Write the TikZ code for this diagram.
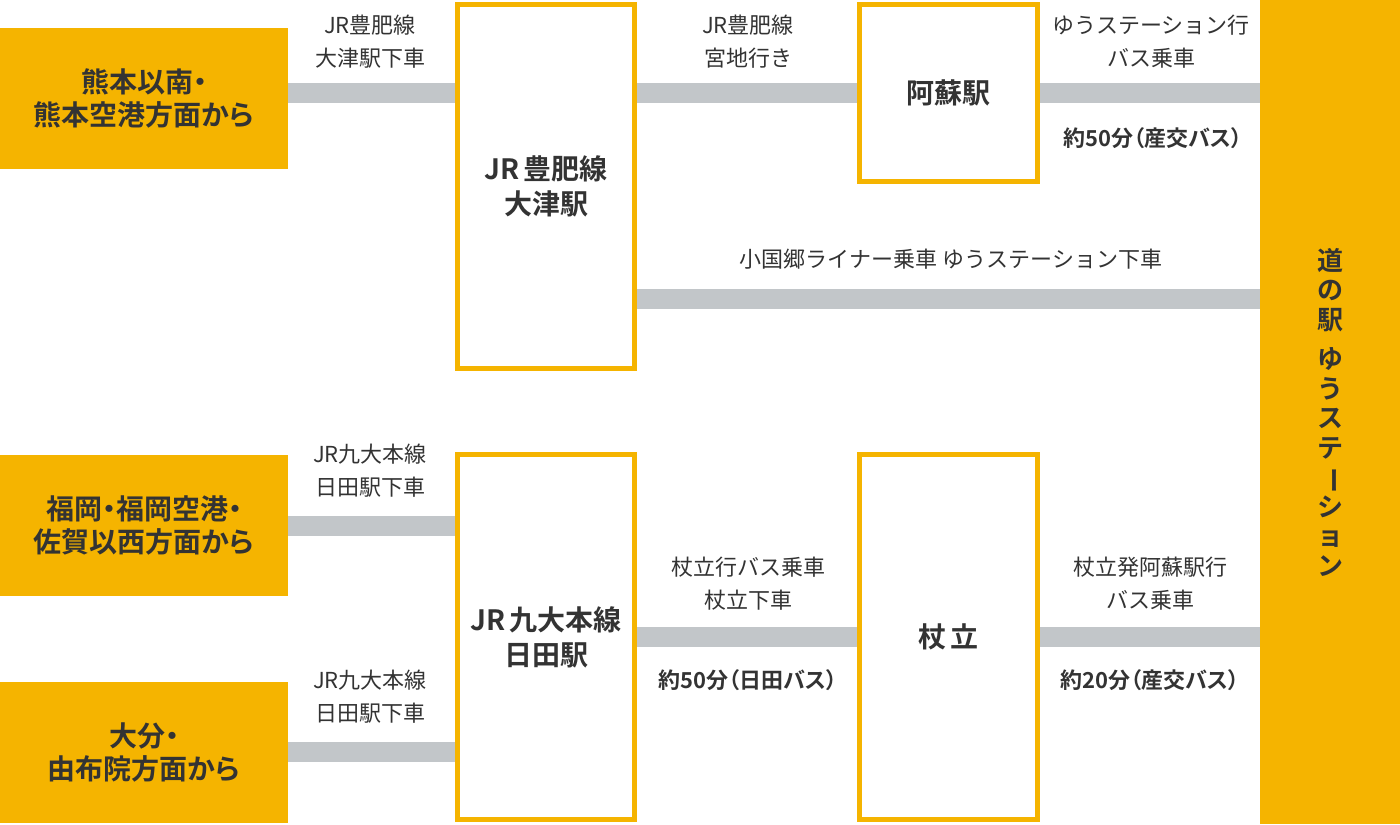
\documentclass[tikz,border=0pt]{standalone}
\usepackage{fontspec}
\setmainfont{Noto Sans CJK JP}[BoldFont={Noto Sans CJK JP Bold}]
\usepackage{graphicx}
\usetikzlibrary{calc}
\definecolor{routeyellow}{HTML}{F5B400}
\definecolor{railgray}{HTML}{C2C6C9}
\definecolor{textdark}{HTML}{333333}
\newcommand{\proportional}{\addfontfeature{RawFeature=+palt}}

\begin{document}
\begin{tikzpicture}[x=0.5pt, y=-0.5pt, text=textdark,
		font=\fontsize{11}{16.5}\selectfont,
		origin/.style={fill=routeyellow, minimum width=144pt, minimum height=70.5pt, inner sep=0pt, align=center, font=\bfseries\fontsize{14}{16.5}\selectfont\proportional},
		stop/.style={draw=routeyellow, line width=2.5pt, fill=white, inner sep=0pt, align=center, font=\bfseries\fontsize{14}{17.5}\selectfont},
		bar/.style={railgray, line width=10pt},
		note/.style={align=center},
		time/.style={font=\bfseries\fontsize{11}{14}\selectfont\proportional}]
			
			\useasboundingbox (0,0) rectangle (1400,824);
			
			% start points
			\node[origin] (kumamoto) at (144,98.5) {熊本以南・\\熊本空港方面から};
			\node[origin] (fukuoka) at (144,525.5) {福岡・福岡空港・\\佐賀以西方面から};
			\node[origin] (oita) at (144,752) {大分・\\由布院方面から};
			
			% stations
			\node[stop, minimum width=88.5pt, minimum height=182pt] (ozu) at (546,186.5) {JR\,豊肥線\\大津駅};
			\node[stop, minimum width=89pt, minimum height=88.5pt] (aso) at (948.5,93) {阿蘇駅};
			\node[stop, minimum width=88.5pt, minimum height=182.5pt] (hita) at (546,637) {JR\,九大本線\\日田駅};
			\node[stop, minimum width=89pt, minimum height=182.5pt] (tsuetate) at (948.5,637) {杖\,立};
			
			% goal
			\node[fill=routeyellow, minimum width=70pt, minimum height=412pt, inner sep=0pt, align=center, font=\bfseries\fontsize{13}{14.75}\selectfont] (station) at (1330,412)
				{道\\の\\駅\\[5pt]ゆ\\う\\ス\\テ\\\rotatebox[origin=c]{-90}{ー}\\シ\\ョ\\ン};
			
			% rails and bus lines
			\coordinate (liner) at (951,299);
			\draw[bar] (kumamoto.east |- aso.center) -- (ozu.west |- aso.center);
			\draw[bar] (ozu.east |- aso.center) -- (aso.west);
			\draw[bar] (aso.east) -- (station.west |- aso.center);
			\draw[bar] (ozu.east |- liner) -- (station.west |- liner);
			\draw[bar] (fukuoka.east) -- (fukuoka.east -| hita.west);
			\draw[bar] (oita.east) -- (oita.east -| hita.west);
			\draw[bar] (hita.east) -- (tsuetate.west);
			\draw[bar] (tsuetate.east) -- (tsuetate.east -| station.west);
			
			% labels
			\node[note] (ozulabel) at (370,41.5) {JR豊肥線\\大津駅下車};
			\node[note] (miyajilabel) at (748,41.5) {JR豊肥線\\宮地行き};
			\node[note] (asobuslabel) at (1151,41.5) {ゆうステーション行\\バス乗車};
			\node[time] (asotime) at (1153,138) {約50分（産交バス）};
			\node[note] (linerlabel) at (951,259) {小国郷ライナー乗車 ゆうステーション下車};
			\node[note] (hitalabel) at (370,471) {JR九大本線\\日田駅下車};
			\node[note] (oitalabel) at (370,697) {JR九大本線\\日田駅下車};
			\node[note] (tsuetatelabel) at (748,584) {杖立行バス乗車\\杖立下車};
			\node[time] (hitatime) at (748,680) {約50分（日田バス）};
			\node[note] (tsuetatebuslabel) at (1150,584) {杖立発阿蘇駅行\\バス乗車};
			\node[time] (tsuetatetime) at (1150,680) {約20分（産交バス）};
			
	\end{tikzpicture}
\end{document}
